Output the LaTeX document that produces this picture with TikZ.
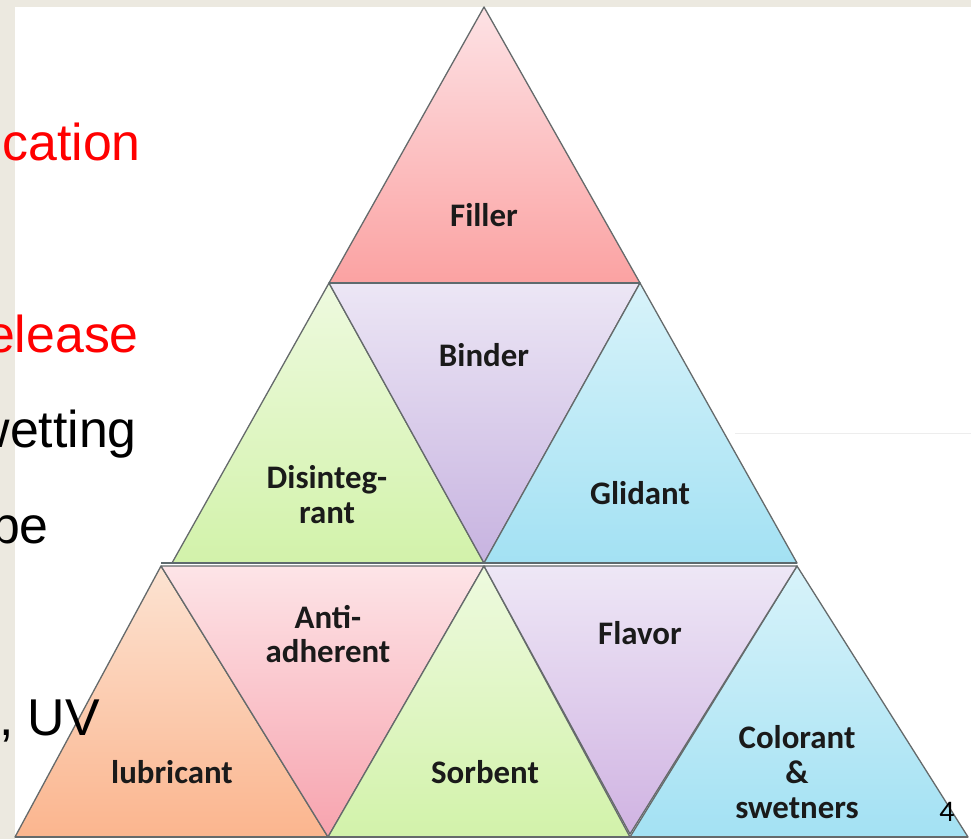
\documentclass[tikz,border=0pt]{standalone}
\usepackage{fontspec}
\setmainfont{Liberation Sans}
\newfontfamily\labfont{Carlito}
\definecolor{beige}{HTML}{ECE9E0}
\definecolor{edgegray}{HTML}{656A6B}
\definecolor{basegray}{HTML}{5E6A6E}
\definecolor{labtext}{HTML}{1A1A1A}
\definecolor{fillerT}{HTML}{FDE2E5}
\definecolor{fillerB}{HTML}{FBA2A2}
\definecolor{binderT}{HTML}{ECE6F5}
\definecolor{binderB}{HTML}{C7B3E0}
\definecolor{greenT}{HTML}{EEFADF}
\definecolor{greenB}{HTML}{D2F2AA}
\definecolor{cyanT}{HTML}{D8F3FA}
\definecolor{cyanB}{HTML}{A3E1F3}
\definecolor{peachT}{HTML}{FCE3D2}
\definecolor{peachB}{HTML}{FBB58E}
\definecolor{pinkT}{HTML}{FDE4E7}
\definecolor{pinkB}{HTML}{F7A3AE}
\definecolor{lavT}{HTML}{EEE7F6}
\definecolor{lavB}{HTML}{D0B3E2}
\begin{document}
\begin{tikzpicture}[x=1bp,y=-1bp,
  tri/.style={draw=edgegray, line width=1.3bp, line join=round},
  baseline/.style={draw=basegray, line width=2.4bp},
  lbl/.style={font=\labfont\bfseries\fontsize{33}{35}\selectfont, text=labtext, align=center, inner sep=0pt},
  slidetext/.style={font=\fontsize{52}{60}\selectfont, inner sep=0pt, anchor=base east},
  pagenum/.style={font=\labfont\fontsize{30}{34}\selectfont, inner sep=0pt}]
\useasboundingbox (0,0) rectangle (971,839);
\begin{scope}
\clip (0,0) rectangle (971,839);
\fill[white] (0,0) rectangle (971,839);
\fill[beige] (0,0) rectangle (971,7);
\fill[beige] (0,0) rectangle (15,839);
\draw[gray!14, line width=1bp] (735,433) -- (971,433);

% vertices
\coordinate (A) at (484,7);
\coordinate (L1) at (329,283);
\coordinate (R1) at (640,283);
\coordinate (L2) at (172,563);
\coordinate (M2) at (484,563);
\coordinate (R2) at (797,563);
\coordinate (L2b) at (161,566);
\coordinate (M2b) at (484,566);
\coordinate (R2b) at (797,566);
\coordinate (L3) at (15,837);
\coordinate (M3a) at (328,837);
\coordinate (M3b) at (630,837);
\coordinate (F3) at (630,834);
\coordinate (R3) at (968,837);

% row 1
\shade[tri, top color=fillerT, bottom color=fillerB] (A) -- (R1) -- (L1) -- cycle;
% row 2
\shade[tri, top color=greenT, bottom color=greenB] (L1) -- (M2) -- (L2) -- cycle;
\shade[tri, top color=binderT, bottom color=binderB] (L1) -- (R1) -- (M2) -- cycle;
\shade[tri, top color=cyanT, bottom color=cyanB] (R1) -- (R2) -- (M2) -- cycle;
% row 3
\shade[tri, top color=peachT, bottom color=peachB] (L2b) -- (M3a) -- (L3) -- cycle;
\shade[tri, top color=pinkT, bottom color=pinkB] (L2b) -- (M2b) -- (M3a) -- cycle;
\shade[tri, top color=greenT, bottom color=greenB] (M2b) -- (M3b) -- (M3a) -- cycle;
\shade[tri, top color=cyanT, bottom color=cyanB] (R2b) -- (R3) -- (M3b) -- cycle;
\shade[tri, top color=lavT, bottom color=lavB] (M2b) -- (R2b) -- (F3) -- cycle;

% horizontal bases
\draw[baseline] (L1) -- (R1);
\draw[baseline] (L2b |- L2) -- (R2);
\draw[draw=edgegray, line width=1.5bp] (L3) -- (R3);

% labels
\node[lbl] (filler) at (484,215) {Filler};
\node[lbl] (binder) at (484,355) {Binder};
\node[lbl] (disint) at (327,495) {Disinteg-\\rant};
\node[lbl] (glidant) at (640,493) {Glidant};
\node[lbl] (antiadh) at (328,634) {Anti-\\adherent};
\node[lbl] (flavor) at (640,633) {Flavor};
\node[lbl] (lubric) at (172,772) {lubricant};
\node[lbl] (sorbent) at (485,772) {Sorbent};
\node[lbl] (colorant) at (797,772) {Colorant\\\&\\swetners};
\node[pagenum] (pnum) at (947,812) {4};

% slide text fragments
\node[slidetext, text=red] (t1) at (141,160) {cation};
\node[slidetext, text=red] (t2) at (139,352) {elease};
\node[slidetext] (t3) at (137,447) {wetting};
\node[slidetext] (t4) at (49,543) {pe};
\node[slidetext] (t5) at (100,735) {, UV};
\end{scope}
\end{tikzpicture}
\end{document}
